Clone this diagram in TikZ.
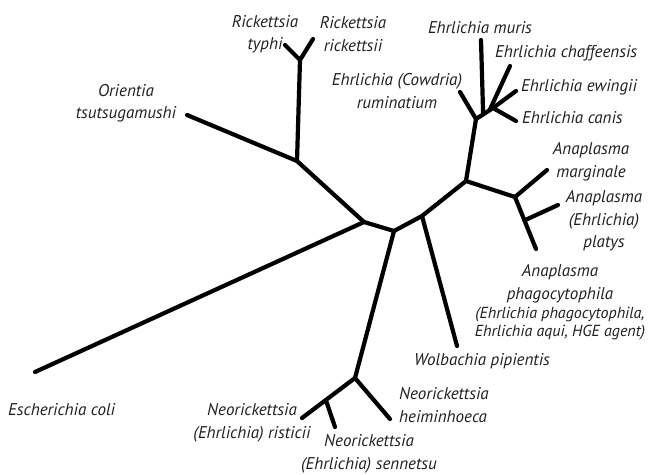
\documentclass[tikz,border=0pt]{standalone}
\usepackage{fontspec}
\setmainfont{PT Sans}
\usepackage{xcolor}
\usetikzlibrary{calc,positioning}
\definecolor{ink}{HTML}{231F20}

\begin{document}
\begin{tikzpicture}[
  x=1pt, y=-1pt,
  font=\fontsize{17}{22.5}\selectfont\itshape,
  branch/.style={draw=black, line width=4.2pt, line cap=round, line join=round},
  taxon/.style={text=ink, align=center, inner sep=0pt},
  synonym/.style={taxon, font=\fontsize{16}{18}\selectfont\itshape}
]
\useasboundingbox (0,0) rectangle (648,474);
% inner nodes of the tree
\coordinate (nA)    at (364,222);
\coordinate (nB)    at (394,231);
\coordinate (nC)    at (422,216);
\coordinate (nD)    at (466,181);
\coordinate (nRick) at (297,161);
\coordinate (rickFork) at (300,60);
\coordinate (nNeo)  at (355,378);
\coordinate (nEhr)  at (476,119);
\coordinate (nEhr2) at (493,108);
\coordinate (nAna)  at (515,197);
% leaf ends
\coordinate (typhiEnd)  at (285,45);
\coordinate (rickEnd)   at (313,39);
\coordinate (orientEnd) at (187,115);
\coordinate (ecoliEnd)  at (35,372);
\coordinate (heimEnd)   at (390,419);
\coordinate (ristEnd)   at (302,418);
\coordinate (senEnd)    at (335,427);
\coordinate (wolbEnd)   at (457,346);
\coordinate (cowEnd)    at (460,92);
\coordinate (murisEnd)  at (481,40);
\coordinate (chafEnd)   at (510,66);
\coordinate (ewEnd)     at (516,91);
\coordinate (canisEnd)  at (516,121);
\coordinate (margEnd)   at (547,170);
\coordinate (platEnd)   at (558,205);
\coordinate (phagEnd)   at (536,249);
% side junctions
\coordinate (senJ)   at ($(nNeo)!0.55!(ristEnd)$);
\coordinate (murisJ) at ($(nEhr)!0.42!(nEhr2)$);
\coordinate (chafJ)  at ($(nEhr)!0.8!(nEhr2)$);
\coordinate (platJ)  at ($(nAna)!0.45!(phagEnd)$);

% branches
\draw[branch] (ecoliEnd) -- (nA) -- (nB) -- (nC) -- (nD) -- (nAna) -- (phagEnd);
\draw[branch] (nA) -- (nRick) -- (rickFork);
\draw[branch] (orientEnd) -- (nRick);
\draw[branch] (typhiEnd) -- (rickFork) -- (rickEnd);
\draw[branch] (nB) -- (nNeo) -- (heimEnd);
\draw[branch] (nNeo) -- (ristEnd);
\draw[branch] (senJ) -- (senEnd);
\draw[branch] (nC) -- (wolbEnd);
\draw[branch] (nD) -- (nEhr) -- (nEhr2) -- (canisEnd);
\draw[branch] (nEhr) -- (cowEnd);
\draw[branch] (murisJ) -- (murisEnd);
\draw[branch] (chafJ) -- (chafEnd);
\draw[branch] (nEhr2) -- (ewEnd);
\draw[branch] (nAna) -- (margEnd);
\draw[branch] (platJ) -- (platEnd);

% labels
\node[taxon] (typhi)  at (265,34)  {Rickettsia\\typhi};
\node[taxon] (rick)   at (353,34)  {Rickettsia\\rickettsii};
\node[taxon] (orient) at (126,103) {Orientia\\tsutsugamushi};
\node[taxon] (cow)    at (397,91)  {Ehrlichia (Cowdria)\\ruminatium};
\node[taxon] (muris)  at (480,28)  {Ehrlichia muris};
\node[taxon, anchor=west] (chaf)  at (495,53)  {Ehrlichia chaffeensis};
\node[taxon, anchor=west] (ew)    at (521,87)  {Ehrlichia ewingii};
\node[taxon, anchor=west] (canis) at (522,118) {Ehrlichia canis};
\node[taxon] (marg)   at (591,162) {Anaplasma\\marginale};
\node[taxon] (plat)   at (604,221) {Anaplasma\\(Ehrlichia)\\platys};
\node[taxon] (phag)   at (560,284) {Anaplasma\\phagocytophila};
\node[synonym] (phagSyn) at (560,324) {(Ehrlichia phagocytophila,\\Ehrlichia aqui, HGE agent)};
\node[taxon, anchor=west] (wolb)  at (414,361) {Wolbachia pipientis};
\node[taxon, anchor=west] (ecoli) at (8,410)   {Escherichia coli};
\node[taxon, anchor=west, align=left] (heim) at (399,405) {Neorickettsia\\heiminhoeca};
\node[taxon] (rist)   at (252,423) {Neorickettsia\\(Ehrlichia) risticii};
\node[taxon] (sen)    at (369,454) {Neorickettsia\\(Ehrlichia) sennetsu};
\end{tikzpicture}
\end{document}
